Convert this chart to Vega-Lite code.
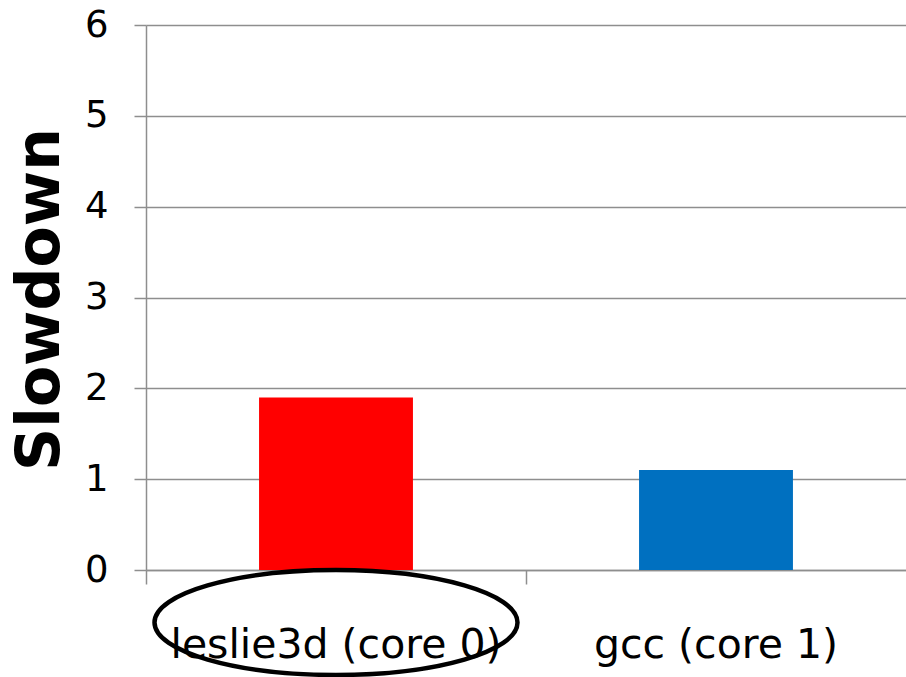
{
  "$schema": "https://vega.github.io/schema/vega-lite/v6.json",
  "width": 760,
  "height": 545,
  "autosize": {"type": "none"},
  "padding": {"left": 146, "top": 25, "right": 0, "bottom": 107},
  "background": "white",
  "config": {
    "view": {"stroke": null},
    "font": "DejaVu Sans"
  },
  "data": {
    "values": [
      {"benchmark": "leslie3d (core 0)", "slowdown": 1.9},
      {"benchmark": "gcc (core 1)", "slowdown": 1.1}
    ]
  },
  "encoding": {
    "x": {
      "field": "benchmark",
      "type": "nominal",
      "sort": null,
      "scale": {"paddingInner": 0.595, "paddingOuter": 0.2975},
      "axis": {
        "title": null,
        "labelAngle": 0,
        "labelFont": "DejaVu Sans",
        "labelFontSize": 41,
        "labelColor": "black",
        "labelLimit": 0,
        "labelPadding": 41,
        "bandPosition": -0.734,
        "tickSize": 14,
        "tickColor": "#8e8e8e",
        "tickWidth": 1.5,
        "domainColor": "#8e8e8e",
        "domainWidth": 1.5,
        "grid": false
      }
    }
  },
  "layer": [
    {
      "mark": {"type": "bar"},
      "encoding": {
        "y": {
          "field": "slowdown",
          "type": "quantitative",
          "scale": {"domain": [0, 6], "nice": false},
          "axis": {
            "title": "Slowdown",
            "titleFont": "DejaVu Sans",
            "titleFontSize": 60,
            "titleFontWeight": "bold",
            "titleColor": "black",
            "titleAngle": -90,
            "titleAlign": "center",
            "titleBaseline": "middle",
            "titleX": -106,
            "titleY": 274,
            "values": [0, 1, 2, 3, 4, 5, 6],
            "format": "d",
            "labelFont": "DejaVu Sans",
            "labelFontSize": 37,
            "labelColor": "black",
            "labelPadding": 26,
            "tickSize": 12,
            "tickColor": "#8e8e8e",
            "tickWidth": 1.5,
            "domainColor": "#8e8e8e",
            "domainWidth": 1.5,
            "grid": true,
            "gridColor": "#8e8e8e",
            "gridWidth": 1.5
          }
        },
        "color": {
          "field": "benchmark",
          "type": "nominal",
          "scale": {
            "domain": ["leslie3d (core 0)", "gcc (core 1)"],
            "range": ["#ff0000", "#0070c0"]
          },
          "legend": null
        }
      }
    },
    {
      "transform": [{"filter": "datum.benchmark === 'leslie3d (core 0)'"}],
      "mark": {
        "type": "point",
        "shape": "M-1,0 A1,0.289 0 1,1 1,0 A1,0.289 0 1,1 -1,0 Z",
        "size": 131769,
        "filled": false,
        "stroke": "black",
        "strokeWidth": 4.5,
        "opacity": 1,
        "clip": false
      },
      "encoding": {
        "y": {"datum": -0.578, "type": "quantitative"}
      }
    }
  ]
}
